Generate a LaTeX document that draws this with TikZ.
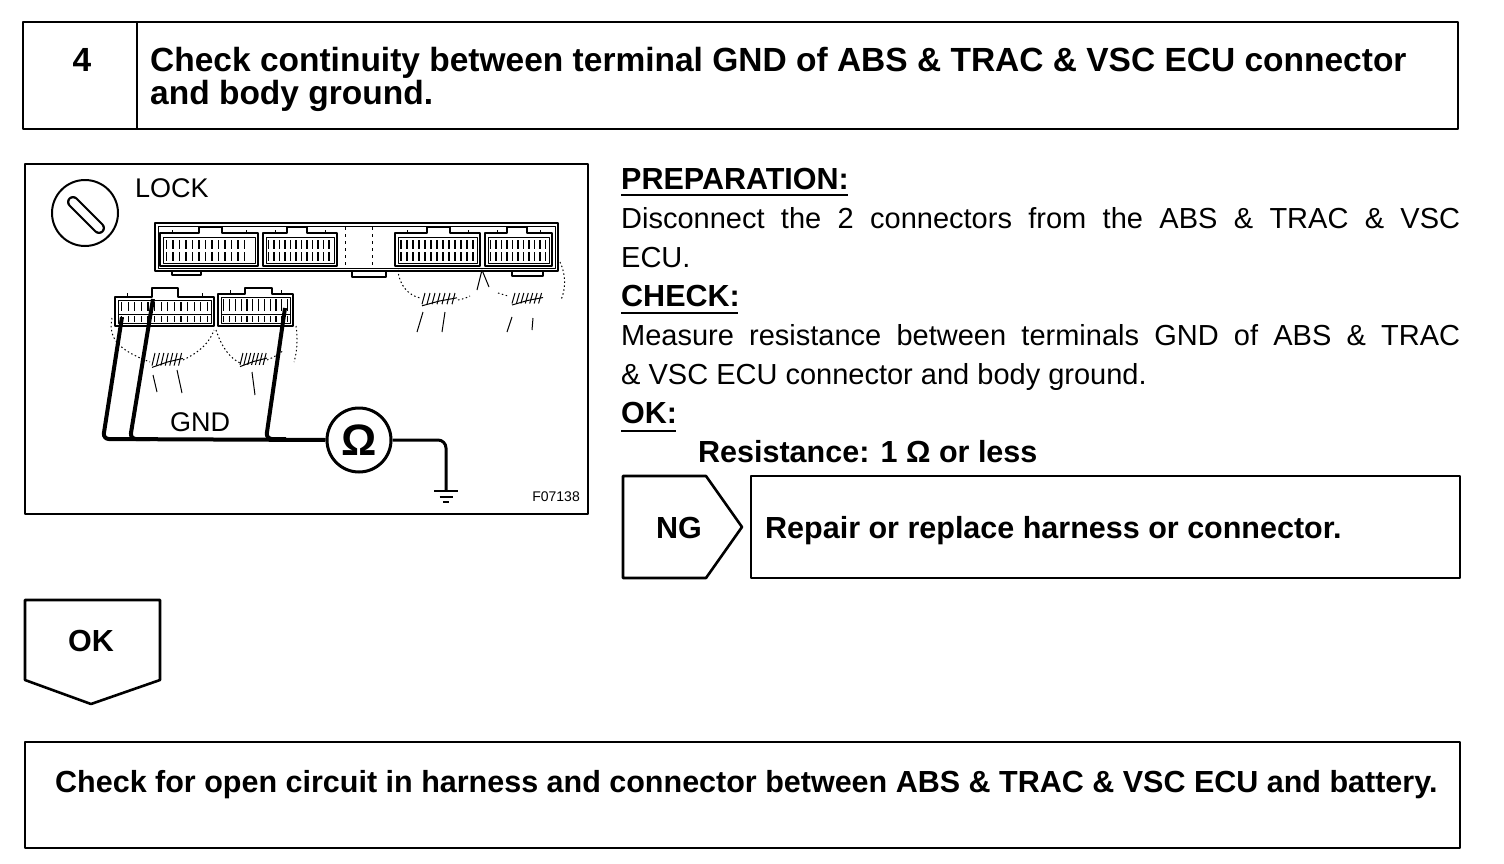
\documentclass[tikz,border=0pt]{standalone}
\usepackage{fontspec}
\setmainfont{Liberation Sans}
\usetikzlibrary{calc}
\begin{document}
\begin{tikzpicture}[x=1pt,y=-1pt,line join=round,
  box/.style={draw,line width=2.6pt},
  bt/.style={font=\fontsize{30.5}{36}\selectfont\bfseries,inner sep=0pt},
  tt/.style={font=\fontsize{33.5}{40}\selectfont\bfseries,inner sep=0pt},
  rt/.style={font=\fontsize{29}{35}\selectfont,inner sep=0pt},
  lt/.style={font=\fontsize{27}{32}\selectfont,inner sep=0pt},
  frame/.style={draw,line width=1.5pt},
  pin/.style={line width=1.2pt},
  wire/.style={line width=4pt,rounded corners=6pt},
  lead/.style={line width=3pt,rounded corners=8pt},
  fan/.style={line width=1pt,dash pattern=on 1.5pt off 2.5pt},
  fanline/.style={line width=1pt}]
\useasboundingbox (0,0) rectangle (1504,864);
\fill[white] (0,0) rectangle (1504,864);

% ---------- header ----------
\draw[box] (23,22) rectangle (1458,129);
\draw[box] (137,22) -- (137,129);
\node[tt,anchor=base] (num) at (82,72) {4};
\node[tt,anchor=base west] (t1) at (150,72) {Check continuity between terminal GND of ABS \& TRAC \& VSC ECU connector};
\node[tt,anchor=base west] (t2) at (150,105) {and body ground.};

% ---------- illustration ----------
\draw[box] (25,164) rectangle (588,514);
% lock symbol
\node[draw,circle,line width=2pt,minimum size=66pt,inner sep=0pt] (lock) at (85,213) {};
\coordinate (sa) at (73,202);
\coordinate (sb) at (99,228);
\draw[line width=12pt,line cap=round] (sa) -- (sb);
\draw[white,line width=7.5pt,line cap=round] (sa) -- (sb);
\node[lt,anchor=west] (locktxt) at (135,188) {LOCK};

% ECU connector strip
\draw[frame] (155,223) rectangle (558,271);
\draw[line width=0.8pt] (158,226) rectangle (555,268);
\draw[frame] (172,271) -- (172,275) -- (201,275) -- (201,271);
\draw[frame] (352,271) -- (352,277) -- (386,277) -- (386,271);
\draw[frame] (512,271) -- (512,276) -- (543,276) -- (543,271);
\draw[line width=1pt,dash pattern=on 3pt off 4pt] (345,227) -- (345,268);
\draw[line width=1pt,dash pattern=on 3pt off 4pt] (372,227) -- (372,268);
% connectors in ECU
\foreach \xa/\xb/\ta/\tb/\sx/\n in {160/258/199/222/6.5/13, 263/337/287/307/5.5/12, 395/480/427/450/6/13, 485/552/507/527/5.5/11}{
  \draw[frame] (\xa,233) -- (\ta,233) -- (\ta,227) -- (\tb,227) -- (\tb,233) -- (\xb,233) -- (\xb,266) -- (\xa,266) -- cycle;
  \draw[line width=0.9pt] (\xa+3,237) rectangle (\xb-3,263);
  \draw[line width=1pt] (\xa+12,233) -- (\xa+12,230) (\xb-12,233) -- (\xb-12,230);
  \foreach \i in {1,...,\n}{
    \draw[pin] ({\xa+\i*\sx},240) -- ++(0,9) ({\xa+\i*\sx},252) -- ++(0,9);
  }
}
% harness-side connectors
\foreach \xa/\xb/\yt/\ta/\tb/\sx/\n in {115/214/297/152/178/6.6/14, 218/293/294/245/272/5.8/12}{
  \draw[frame] (\xa,\yt) -- (\ta,\yt) -- (\ta,288) -- (\tb,288) -- (\tb,\yt) -- (\xb,\yt) -- (\xb,326) -- (\xa,326) -- cycle;
  \draw[line width=0.9pt] (\xa+3,\yt+3) rectangle (\xb-3,323);
  \draw[line width=0.9pt] (\xa+3,314) -- (\xb-3,314);
  \draw[line width=1pt] (\xa+12,\yt) -- (\xa+12,\yt-4) (\xb-12,\yt) -- (\xb-12,\yt-4);
  \foreach \i in {1,...,\n}{
    \draw[pin] ({\xa+\i*\sx},\yt+5) -- (\xa+\i*\sx,311) ({\xa+\i*\sx},316) -- ++(0,6);
  }
}
% harness bundles: dotted outlines
\draw[fan] (112,318) .. controls (108,338) and (118,350) .. (150,362);
\draw[fan] (183,360) .. controls (200,352) and (210,342) .. (214,330);
\draw[fan] (216,330) .. controls (222,348) and (230,358) .. (240,363);
\draw[fan] (267,360) .. controls (275,357) and (280,353) .. (284,350);
\draw[fan] (296,326) .. controls (298,340) and (297,352) .. (294,362);
\draw[fan] (398,270) .. controls (399,285) and (408,295) .. (420,298);
\draw[fan] (458,300) .. controls (463,299) and (466,298) .. (470,296);
\draw[fan] (498,293) -- (508,296);
\draw[fan] (560,262) .. controls (566,275) and (566,288) .. (561,300);
\draw[fanline] (482,270) -- (477,290) (482,270) -- (489,287);
% bundle strokes
\foreach \bx/\by/\bw/\bh in {152/353/31/18, 240/353/27/17, 422/293/35/16, 512/293/31/15}{
  \foreach \k in {0,...,6}{
    \draw[fanline] ({\bx+\k*\bw/7},{\by+\bh*0.7}) -- ({\bx+\k*\bw/7+3},\by);
  }
  \draw[fanline] (\bx,{\by+\bh*0.8}) -- ({\bx+\bw*0.5},{\by+\bh*0.5}) -- ({\bx+\bw},{\by+\bh*0.3});
}
% legs
\draw[fanline] (153,375) -- (157,392);
\draw[fanline] (177,370) -- (182,393);
\draw[fanline] (252,372) -- (255,395);
\draw[fanline] (423,312) -- (417,332);
\draw[fanline] (445,312) -- (442,332);
\draw[fanline] (512,317) -- (507,332);
\draw[fanline] (533,318) -- (532,330);

% probes / wires
\coordinate (w1t) at (122,317);
\coordinate (w2t) at (153,299);
\coordinate (w3t) at (285,308);
\coordinate (w1b) at (103,439);
\coordinate (w2b) at (130,439);
\coordinate (w3b) at (266,439);
\node[draw,circle,line width=3pt,minimum size=64pt,inner sep=0pt,font=\fontsize{44}{46}\selectfont\bfseries] (ohm) at (359,440) {};
\node[inner sep=0pt,font=\fontsize{44}{46}\selectfont\bfseries,anchor=base] (ohmsym) at (359,455) {Ω};
\coordinate (gnd) at (446,491);
\draw[wire] (w1t) -- (w1b) -- (ohm.west);
\draw[wire] (w2t) -- (w2b) -- ++(20,0);
\draw[wire] (w3t) -- (w3b) -- ++(20,0);
\draw[lead] (ohm.east) -| (gnd);
\draw[line width=1.8pt] ($(gnd)+(-12,0)$) -- ++(24,0);
\draw[line width=1.8pt] ($(gnd)+(-6.5,6)$) -- ++(13,0);
\draw[line width=1.8pt] ($(gnd)+(-3,11)$) -- ++(6,0);
\node[lt,anchor=center] (gndtxt) at (200,422) {GND};
\node[font=\fontsize{14}{16}\selectfont,inner sep=0pt,anchor=east] (fig) at (580,497) {F07138};

% ---------- right text ----------
\node[bt,anchor=base west] (prep) at (621,189) {PREPARATION:};
\draw[line width=2pt] (621,195) -- (848,195);
\node[rt,anchor=base west] (d1) at (621,228) {\makebox[839pt][s]{Disconnect the 2 connectors from the ABS \& TRAC \& VSC}};
\node[rt,anchor=base west] (d2) at (621,267) {ECU.};
\node[bt,anchor=base west] (chk) at (621,306) {CHECK:};
\draw[line width=2pt] (621,313) -- (738,313);
\node[rt,anchor=base west] (m1) at (621,345) {\makebox[839pt][s]{Measure resistance between terminals GND of ABS \& TRAC}};
\node[rt,anchor=base west] (m2) at (621,384) {\& VSC ECU connector and body ground.};
\node[bt,anchor=base west] (ok) at (621,423) {OK:};
\draw[line width=2pt] (621,431) -- (676,431);
\node[bt,anchor=base west] (res) at (698,462) {Resistance: 1 Ω or less};

% ---------- NG branch ----------
\draw[box] (623,476) -- (706,476) -- (742,527) -- (706,578) -- (623,578) -- cycle;
\node[bt,anchor=base] (ng) at (679,538) {NG};
\draw[box] (751,476) rectangle (1460,578);
\node[bt,anchor=base west] (rep) at (765,538) {Repair or replace harness or connector.};

% ---------- OK branch ----------
\draw[box] (25,600) -- (160,600) -- (160,680) -- (91,704) -- (25,680) -- cycle;
\node[bt,anchor=base] (okb) at (91,651) {OK};
\draw[box] (25,742) rectangle (1460,848);
\node[bt,anchor=base west] (fin) at (55,792) {Check for open circuit in harness and connector between ABS \& TRAC \& VSC ECU and battery.};
\end{tikzpicture}
\end{document}
